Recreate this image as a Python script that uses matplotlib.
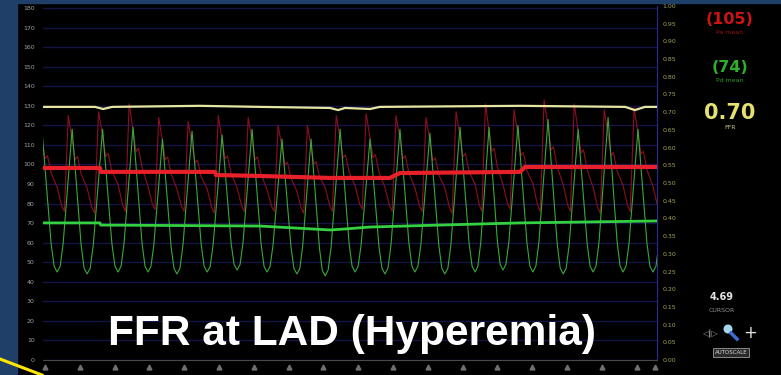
import matplotlib
matplotlib.use("Agg")
import matplotlib.pyplot as plt
import matplotlib.transforms as mtrans
from matplotlib.patches import Rectangle, Circle
from matplotlib.lines import Line2D

W, H = 781, 375

# ---------------- data ----------------
left_ticks = list(range(0, 190, 10))                      # mmHg
right_ticks = [round(0.05 * i, 2) for i in range(21)]      # ratio
right_tick_labels = [f"{v:.2f}" for v in right_ticks]
time_ticks = [0, 1, 2, 3, 4, 5, 6, 7, 8, 9, 10, 11, 12, 13, 14, 15, 16, 17, 17.53]

# Pd trough times (s) – one per heart beat
beat_onsets = [-0.52, 0.35, 1.21, 2.10, 2.96, 3.79, 4.66, 5.52, 6.38, 7.24, 8.05,
               8.91, 9.77, 10.63, 11.49, 12.36, 13.16, 14.02, 14.89, 15.75, 16.61,
               17.47, 18.33]
# distal pressure (Pd) per beat
pd_sys = [117, 118, 118, 119, 113, 117, 115, 118, 113, 113, 118, 113, 118, 116, 119,
          119, 120, 123, 118, 124, 118, 118]
pd_dia = [45, 45, 44, 45, 45, 44, 45, 46, 45, 44, 43, 45, 44, 45, 44, 45, 46, 45, 44,
          45, 45, 45, 45]
# aortic pressure (Pa) per beat
pa_sys = [125, 125, 127, 131, 124, 122, 125, 124, 120, 120, 125, 126, 125, 124, 127,
          131, 128, 133, 131, 128, 129, 127]
pa_dia = [76, 76, 75, 76, 77, 76, 75, 76, 76, 75, 76, 77, 76, 76, 75, 76, 77, 76, 76,
          75, 76, 76, 76]
# beat wave shapes (phase within beat, fraction of pulse pressure)
pd_shape_phase = [0.0, 0.1, 0.2, 0.5, 0.8, 0.9]
pd_shape_level = [0.0, 0.04, 0.2, 1.0, 0.2, 0.04]
pa_shape_phase = [0.0, 0.15, 0.24, 0.37, 0.5, 0.6, 0.68, 0.8]
pa_shape_level = [0.25, 0.06, 0.0, 1.0, 0.75, 0.55, 0.58, 0.4]

# running means
pa_mean_t = [-0.06, 1.58, 1.60, 4.89, 4.91, 6.18, 8.19, 9.91, 10.20, 13.65, 13.79, 17.59]
pa_mean = [98.2, 98.2, 96.2, 96.2, 94.6, 94.1, 93.1, 93.1, 95.6, 96.2, 98.7, 98.7]
pd_mean_t = [-0.06, 1.58, 1.60, 6.18, 8.19, 8.62, 9.34, 11.35, 13.65, 17.59]
pd_mean = [70.1, 70.1, 69.0, 68.5, 66.5, 67.0, 68.0, 69.0, 70.1, 71.1]
ffr_t = [-0.06, 1.44, 1.67, 1.93, 4.45, 6.18, 8.19, 8.42, 8.62, 9.34, 9.62, 13.65,
         16.67, 16.95, 17.24, 17.59]
ffr = [0.715, 0.715, 0.709, 0.715, 0.718, 0.715, 0.712, 0.706, 0.712, 0.709, 0.715,
       0.718, 0.715, 0.706, 0.715, 0.715]

# ---------------- build traces ----------------
def build(onsets, sys, dia, phases, levels):
    ts, vs = [], []
    for k in range(len(onsets) - 1):
        t0, t1 = onsets[k], onsets[k + 1]
        for p, lv in zip(phases, levels):
            d = dia[k] if p < 0.5 else dia[k + 1]
            ts.append(t0 + p * (t1 - t0))
            vs.append(d + lv * (sys[k] - d))
    return ts, vs

pd_t, pd_v = build(beat_onsets, pd_sys, pd_dia, pd_shape_phase, pd_shape_level)
pa_t, pa_v = build(beat_onsets, pa_sys, pa_dia, pa_shape_phase, pa_shape_level)

# ---------------- figure ----------------
fig = plt.figure(figsize=(W / 100, H / 100), dpi=100, facecolor="black")
navy = "#203f68"
fig.patches.append(Rectangle((0, 0), 17 / W, 1, transform=fig.transFigure,
                             color=navy, zorder=0))
fig.patches.append(Rectangle((0, 1 - 3 / H), 1, 3 / H, transform=fig.transFigure,
                             color=navy, zorder=0))

ax = fig.add_axes([43 / W, 1 - 360 / H, (657 - 43) / W, (360 - 6) / H])
ax.set_facecolor("black")
ax.set_xlim(-0.0575, 17.586)
ax.set_ylim(0, (360 - 6) / 1.9556)
ax.set_yticks(left_ticks)
ax.set_yticklabels([str(v) for v in left_ticks])
ax.grid(axis="y", color="#141446", lw=1.0)
ax.tick_params(axis="y", length=0, pad=6, labelsize=4.5, labelcolor="#a0a0a0")
ax.set_xticks(time_ticks)
ax.set_xticklabels([])
ax.tick_params(axis="x", length=0)
for s in ["left", "top"]:
    ax.spines[s].set_visible(False)
ax.spines["right"].set_color("#2a2a9a")
ax.spines["bottom"].set_color("#4a4a4a")
ax.spines["bottom"].set_linestyle((0, (3, 1)))

ax.plot(pa_t, pa_v, color="#8c0e22", lw=0.8, zorder=3)
ax.plot(pd_t, pd_v, color="#3aa836", lw=0.8, zorder=3)
ax.plot(pa_mean_t, pa_mean, color="#e8202a", lw=3.0, zorder=4)
ax.plot(pd_mean_t, pd_mean, color="#34d040", lw=2.0, zorder=4)

ax2 = ax.twinx()
ax2.set_ylim(0, 1)
ax2.set_yticks(right_ticks)
ax2.set_yticklabels(right_tick_labels)
ax2.tick_params(axis="y", length=0, pad=4, labelsize=4.5, labelcolor="#a4a45a")
for s in ["left", "top", "bottom", "right"]:
    ax2.spines[s].set_visible(False)
ax2.plot(ffr_t, ffr, color="#e6e6a0", lw=1.6, zorder=5)

# time tick markers below the axis
trans = mtrans.blended_transform_factory(ax.transData, fig.transFigure)
ax.plot(time_ticks, [1 - 367 / H] * len(time_ticks), ls="none", marker="^", ms=3.5,
        color="#707070", transform=trans, clip_on=False)

# title
fig.text(108 / W, 1 - 345 / H, "FFR at LAD (Hyperemia)", family="Liberation Sans",
         fontweight="bold", fontsize=30.5, color="white", ha="left", va="baseline")

# right info panel
fig.text(730 / W, 1 - 19 / H, "(105)", color="#cc1414", fontsize=11.5, fontweight="bold",
         ha="center", va="center")
fig.text(730 / W, 1 - 32 / H, "Pa mean", color="#9a1414", fontsize=4.5, ha="center", va="center")
fig.text(730 / W, 1 - 67 / H, "(74)", color="#2cb02c", fontsize=11.5, fontweight="bold",
         ha="center", va="center")
fig.text(730 / W, 1 - 81 / H, "Pd mean", color="#22a022", fontsize=4.5, ha="center", va="center")
fig.text(730 / W, 1 - 113 / H, "0.70", color="#e6e070", fontsize=15, fontweight="bold",
         ha="center", va="center")
fig.text(730 / W, 1 - 128 / H, "FFR", color="#c8c880", fontsize=4.5, ha="center", va="center")
fig.text(722 / W, 1 - 297 / H, "4.69", color="#e4e4e4", fontsize=7, fontweight="bold",
         ha="center", va="center")
fig.text(722 / W, 1 - 310 / H, "CURSOR", color="#909090", fontsize=4.5, ha="center", va="center")
fig.text(710 / W, 1 - 333 / H, "◁|▷", color="#a0a0a0", fontsize=6, ha="center", va="center")
fig.text(750 / W, 1 - 333 / H, "+", color="#e0e0e0", fontsize=12, ha="center", va="center")
fig.text(731 / W, 1 - 352.5 / H, "AUTOSCALE", color="#d8d8d8", fontsize=4, ha="center",
         va="center", bbox=dict(facecolor="#2a2a2a", edgecolor="#9a9a9a",
                                boxstyle="square,pad=0.35", lw=0.6))
ident = mtrans.IdentityTransform()
fig.lines.append(Line2D([731, 737], [H - 333, H - 339], color="#3c6cd0", lw=2.5,
                        transform=ident))
fig.patches.append(Circle((728, H - 329), 4.5, facecolor="#a6d6ea", edgecolor="none",
                          transform=ident))

# callout line
fig.lines.append(Line2D([0, 42 / W], [1 - 359 / H, 0], color="#ffe600", lw=2.2,
                        transform=fig.transFigure))

fig.savefig("out.png", dpi=100, facecolor="black")
